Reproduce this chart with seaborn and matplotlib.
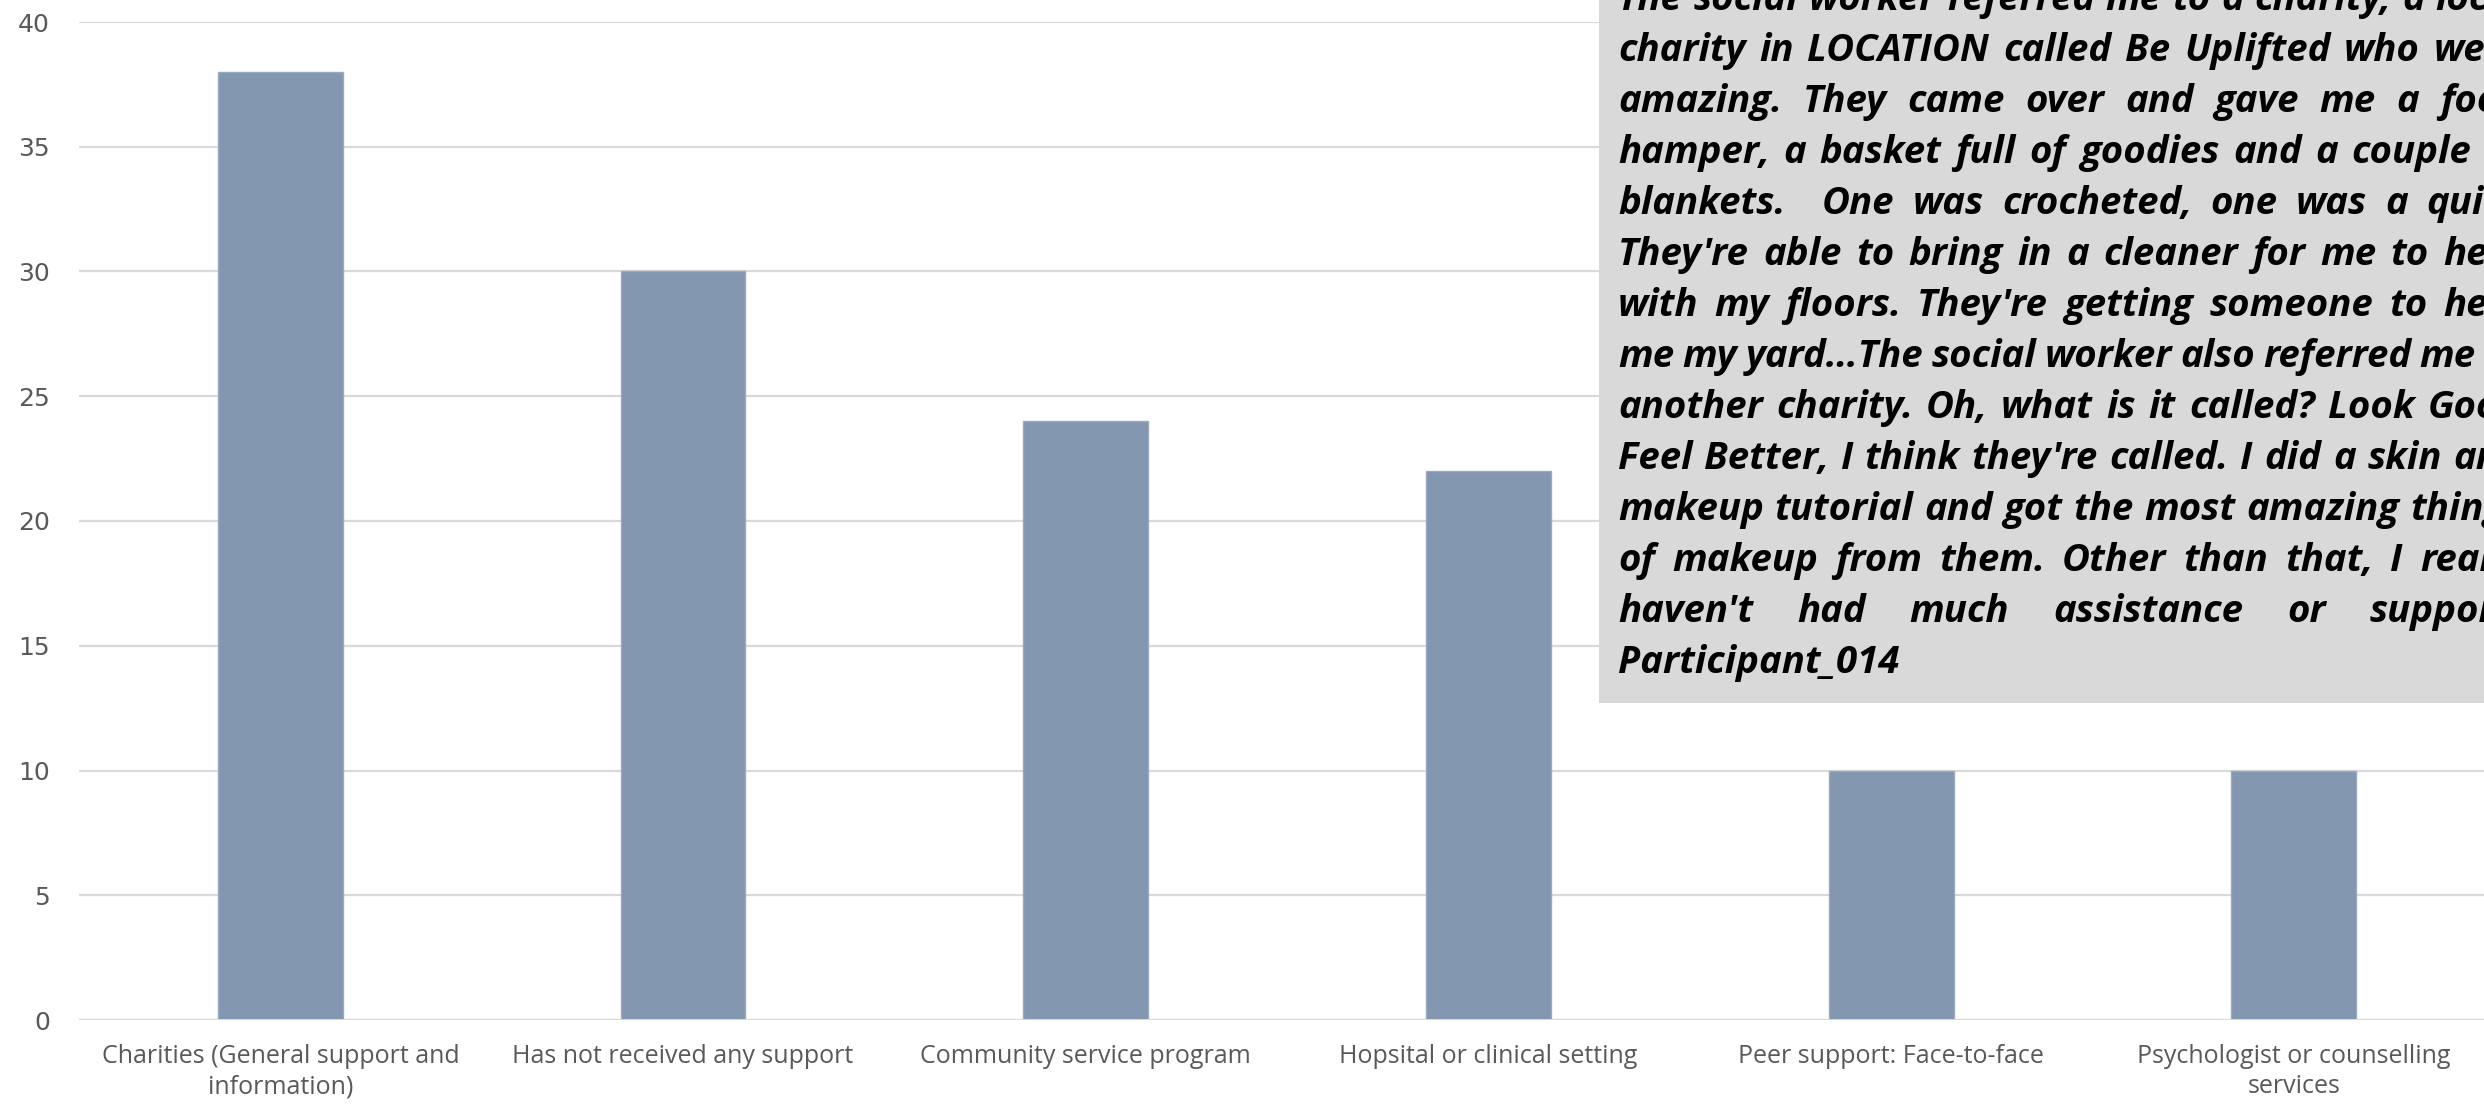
import matplotlib
matplotlib.use("Agg")
import matplotlib.pyplot as plt
from matplotlib import font_manager
from matplotlib.font_manager import FontProperties
from matplotlib.patches import Rectangle
import seaborn as sns
import pandas as pd

# ---- data -------------------------------------------------------------
categories = [
    "Charities (General support and\ninformation)",
    "Has not received any support",
    "Community service program",
    "Hopsital or clinical setting",
    "Peer support: Face-to-face",
    "Psychologist or counselling\nservices",
]
counts = [38, 30, 24, 22, 10, 10]
y_ticks = [0, 5, 10, 15, 20, 25, 30, 35, 40]

quote_lines = [
    "The social worker referred me to a charity, a local",
    "charity in LOCATION called Be Uplifted who were",
    "amazing. They came over and gave me a food",
    "hamper, a basket full of goodies and a couple of",
    "blankets.  One was crocheted, one was a quilt.",
    "They're able to bring in a cleaner for me to help",
    "with my floors. They're getting someone to help",
    "me my yard\u2026The social worker also referred me to",
    "another charity. Oh, what is it called? Look Good",
    "Feel Better, I think they're called. I did a skin and",
    "makeup tutorial and got the most amazing things",
    "of makeup from them. Other than that, I really",
    "haven't had much assistance or support.",
]
quote_signature = "Participant_014"

# ---- figure geometry (pixels) ----------------------------------------
W, H, DPI = 2484, 1107, 100


def fx(px):
    return px / W


def fy(py):
    return 1 - py / H


sns.set_theme(style="white")
plt.rcParams["font.family"] = ["DejaVu Sans"]


def pick_family(candidates, italic, bold):
    for fam in candidates:
        for f in font_manager.fontManager.ttflist:
            if f.name != fam:
                continue
            w = f.weight
            if isinstance(w, str):
                w = font_manager.weight_dict.get(w, 400)
            ok_style = (f.style == "italic") if italic else (f.style == "normal")
            ok_weight = (w >= 600) if bold else (w < 600)
            if ok_style and ok_weight:
                return fam
    return "DejaVu Sans"


quote_family = pick_family(["Open Sans", "Noto Sans", "Lato", "DejaVu Sans"], True, True)
label_family = pick_family(["Open Sans", "Noto Sans", "DejaVu Sans"], False, False)

fig = plt.figure(figsize=(W / DPI, H / DPI), dpi=DPI)
fig.patch.set_facecolor("white")

ax = fig.add_axes([fx(79), fy(1020), (W - 79) / W, (1020 - 22) / H])

df = pd.DataFrame({"category": categories, "count": counts})
sns.barplot(
    data=df, x="category", y="count", color="#8497B0", saturation=1,
    width=0.31, edgecolor="#9AAAC2", linewidth=1, ax=ax, zorder=2,
)

ax.set_xlim(-0.5, 5.472)
ax.set_ylim(0, 40)
ax.set_yticks(y_ticks)
ax.set_xlabel("")
ax.set_ylabel("")
for s in ax.spines.values():
    s.set_visible(False)
ax.yaxis.grid(True, color="#D9D9D9", linewidth=1.6)
ax.xaxis.grid(False)
ax.set_axisbelow(True)
ax.axhline(0, color="#D9D9D9", linewidth=2.2, zorder=3)

ax.tick_params(axis="y", length=0, pad=21, labelsize=18, labelcolor="#595959")
ax.tick_params(axis="x", length=0, pad=17, labelsize=18, labelcolor="#595959")
for lab in ax.get_yticklabels():
    lab.set_fontfamily("DejaVu Sans")
for lab in ax.get_xticklabels():
    lab.set_fontfamily(label_family)
    lab.set_linespacing(1.3)

# ---- quote box -------------------------------------------------------
box_left, box_bottom = 1599, 703
fig.add_artist(Rectangle(
    (fx(box_left), fy(box_bottom)), fx(2700) - fx(box_left), 1.2,
    transform=fig.transFigure, facecolor="#D9D9D9", edgecolor="none", zorder=5,
))

renderer = fig.canvas.get_renderer()


def text_width(s, prop):
    w, _, _ = renderer.get_text_width_height_descent(s, prop, ismath=False)
    return w


prop = FontProperties(family=quote_family, style="italic", weight="bold", size=25)
size = 25 * 282 / text_width(quote_signature, prop)
size = max(20, min(30, size))
prop = FontProperties(family=quote_family, style="italic", weight="bold", size=size)

text_left, text_right = 1618, 2522
line_step, last_baseline = 51, 673
n_lines = len(quote_lines) + 1

for i, line in enumerate(quote_lines):
    baseline = last_baseline - line_step * (n_lines - 1 - i)
    tokens = line.split(" ")
    widths = [text_width(t, prop) if t else 0 for t in tokens]
    gap = (text_right - text_left - sum(widths)) / max(1, len(tokens) - 1)
    x = text_left
    for t, w in zip(tokens, widths):
        if t:
            fig.text(fx(x), fy(baseline), t, fontproperties=prop, color="black",
                     ha="left", va="baseline", zorder=6)
        x += w + gap

fig.text(fx(text_left), fy(last_baseline), quote_signature, fontproperties=prop,
         color="black", ha="left", va="baseline", zorder=6)

fig.savefig("out.png", dpi=DPI)
